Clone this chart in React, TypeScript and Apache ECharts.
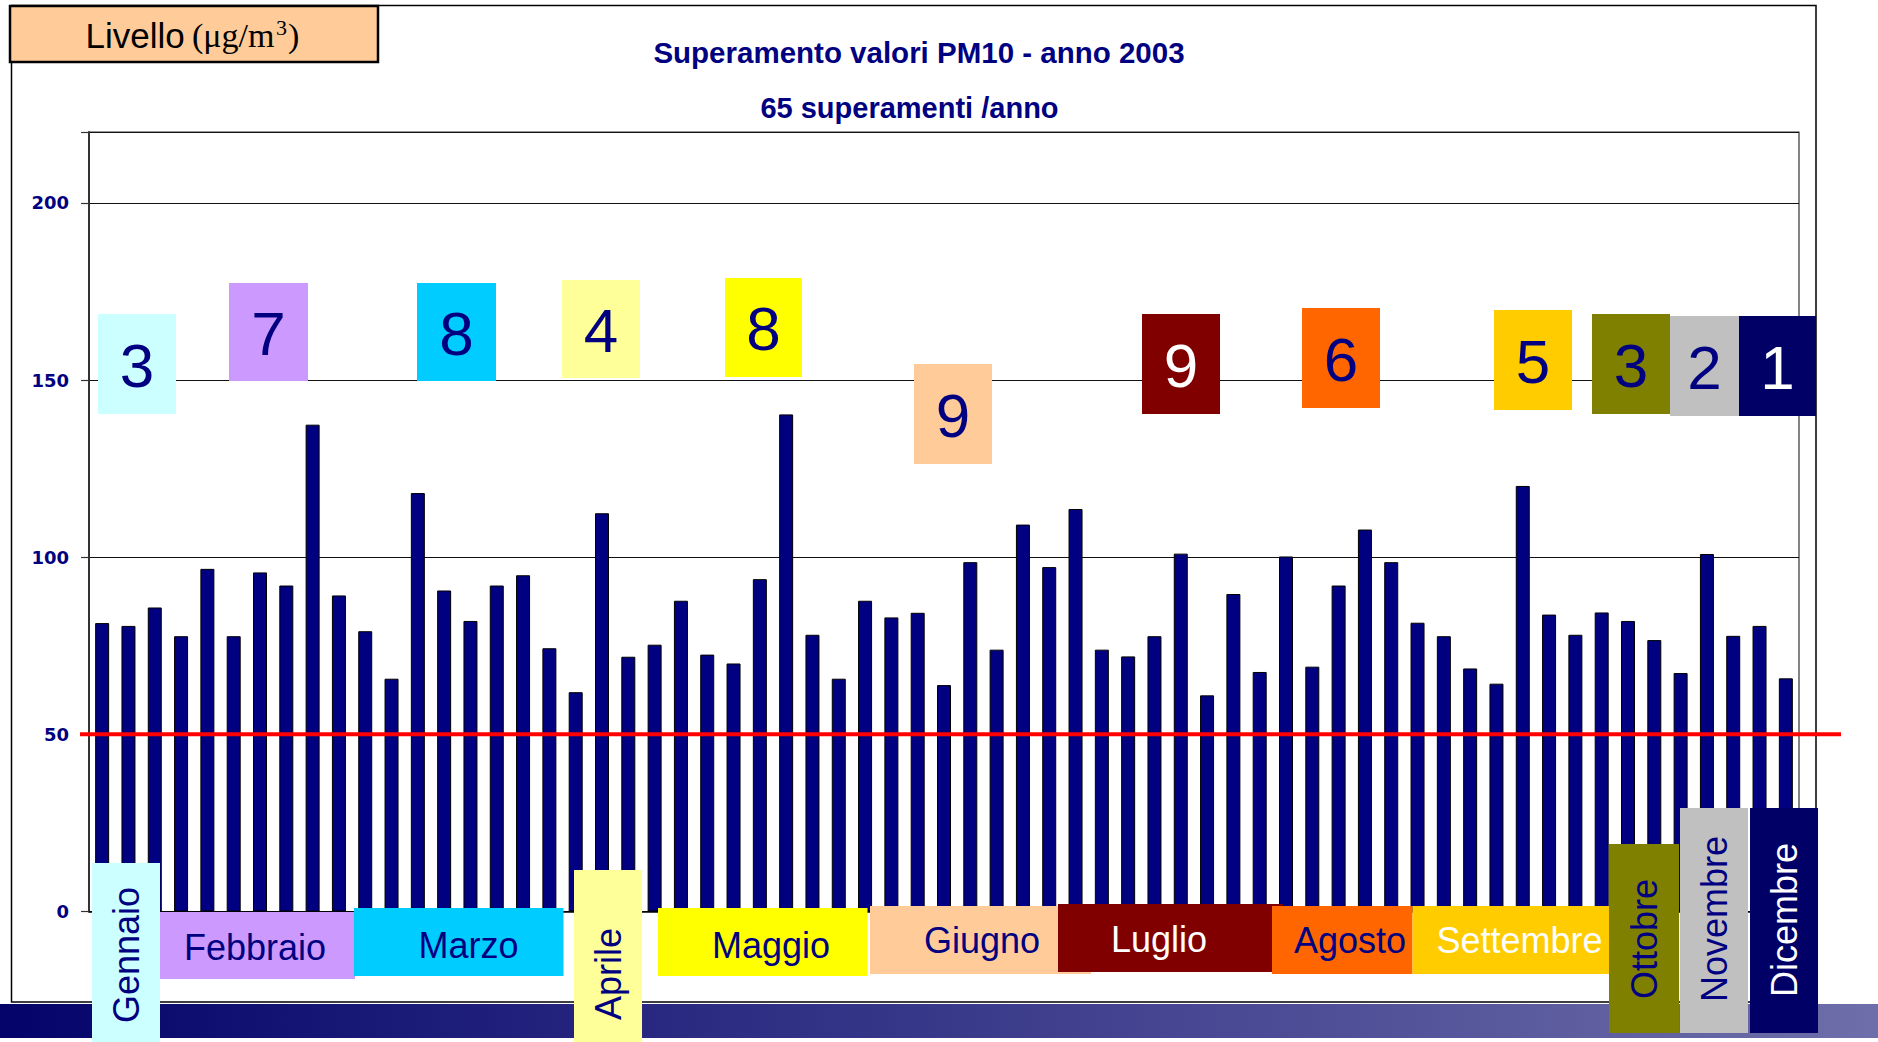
import React, { useEffect, useRef } from "react";
import * as echarts from "echarts";

// ---------- DATA ----------
const MONTHS = ["Gennaio", "Febbraio", "Marzo", "Aprile", "Maggio", "Giugno", "Luglio", "Agosto", "Settembre", "Ottobre", "Novembre", "Dicembre"];
const MONTH_COUNTS = [3, 7, 8, 4, 8, 9, 9, 6, 5, 3, 2, 1];
const PM10_VALUES = [
  81.4, 80.6, 85.8, 77.7, 96.7, 77.7, 95.7, 92.0, 137.4, 89.2,
  79.1, 65.7, 118.1, 90.6, 82.0, 92.0, 94.9, 74.3, 61.9, 112.4,
  71.9, 75.3, 87.7, 72.5, 70.0, 93.8, 140.3, 78.1, 65.7, 87.7,
  83.0, 84.3, 63.9, 98.6, 73.9, 109.2, 97.2, 113.6, 73.9, 72.0,
  77.7, 101.0, 61.0, 89.6, 67.6, 100.2, 69.1, 92.0, 107.8, 98.6,
  81.5, 77.7, 68.6, 64.3, 120.1, 83.8, 78.1, 84.4, 82.0, 76.6,
  67.3, 100.9, 77.8, 80.6, 65.8,
];
const THRESHOLD = 50;
const Y_MIN = 0;
const Y_MAX = 220;
const Y_INTERVAL = 50;
const Y_LAST_LABEL = 200;
const TITLE = "Superamento valori PM10 - anno 2003";
const SUBTITLE = "65 superamenti /anno";
const UNIT_WORD = "Livello";
const UNIT_OPEN = "(μg/m";
const UNIT_SUP = "3";
const UNIT_CLOSE = ")";

// categories: one per exceedance day, grouped by month
const CATEGORIES: string[] = [];
MONTHS.forEach((m, i) => {
  for (let k = 0; k < MONTH_COUNTS[i]; k++) CATEGORIES.push(m + " " + (k + 1));
});

// ---------- STYLE / LAYOUT ----------
const NAVY = "#000080";
const FONT = "'Liberation Sans', Arial, sans-serif";
const SERIF = "'Liberation Serif', 'Times New Roman', serif";
const MONTH_COLORS = ["#CCFFFF", "#CC99FF", "#00CCFF", "#FFFF99", "#FFFF00", "#FFCC99", "#800000", "#FF6600", "#FFCC00", "#808000", "#C0C0C0", "#000066"];
const MONTH_TEXT_COLORS = [NAVY, NAVY, NAVY, NAVY, NAVY, NAVY, "#FFFFFF", NAVY, "#FFFFFF", NAVY, NAVY, "#FFFFFF"];
const COUNT_TEXT_COLORS = [NAVY, NAVY, NAVY, NAVY, NAVY, NAVY, "#FFFFFF", NAVY, NAVY, NAVY, NAVY, "#FFFFFF"];
// [x, y, w, h]
const COUNT_BOXES = [
  [98, 314, 78, 100], [229, 283, 79, 98], [417, 283, 79, 98], [562, 280, 78, 98],
  [725, 278, 77, 99], [914, 364, 78, 100], [1142, 314, 78, 100], [1302, 308, 78, 100],
  [1494, 310, 78, 100], [1592, 314, 78, 100], [1670, 316, 69, 100], [1739, 316, 77, 100],
];
// [x, y, w, h, textX, textY, vertical]
const LABEL_BOXES: [number, number, number, number, number, number, boolean][] = [
  [92, 863, 68, 179, 126, 955, true],
  [160, 912, 195, 67, 255, 947, false],
  [354, 908, 209.5, 68, 468.5, 945, false],
  [574, 870, 68, 172, 608, 974, true],
  [658, 908, 209.5, 68, 771, 945, false],
  [870, 906, 221, 68, 982, 940, false],
  [1058, 904, 225, 68, 1159, 939, false],
  [1272, 906, 140.5, 68, 1350, 940, false],
  [1412.5, 906, 196.5, 68, 1519.5, 940, false],
  [1609, 844, 70, 189, 1644, 939, true],
  [1680, 808, 68, 225, 1714, 919, true],
  [1750, 808, 68, 225, 1784, 920, true],
];

function buildGraphics(y50: number | null): any[] {
  const g: any[] = [];
  g.push({ id: "frame", type: "rect", z: 1, shape: { x: 11.5, y: 5.5, width: 1804.5, height: 996.5 }, style: { fill: "none", stroke: "#000", lineWidth: 1.5 } });
  g.push({
    id: "band", type: "rect", z: 1, shape: { x: 0, y: 1004, width: 1878, height: 34 },
    style: { fill: new echarts.graphic.LinearGradient(0, 0, 1, 0, [{ offset: 0, color: "#03036A" }, { offset: 1, color: "#6E6EAA" }]) },
  });
  g.push({ id: "unitBox", type: "rect", z: 5, shape: { x: 10, y: 6, width: 368, height: 56 }, style: { fill: "#FFCC99", stroke: "#000", lineWidth: 2.5 } });
  g.push({ id: "unitWord", type: "text", z: 6, x: 85.5, y: 35.5, style: { text: UNIT_WORD, font: "35px " + FONT, fill: "#000", align: "left", verticalAlign: "middle" } });
  g.push({ id: "unitOpen", type: "text", z: 6, x: 192, y: 35.5, style: { text: UNIT_OPEN, font: "34px " + SERIF, fill: "#000", align: "left", verticalAlign: "middle" } });
  g.push({ id: "unitSup", type: "text", z: 6, x: 276, y: 27, style: { text: UNIT_SUP, font: "22px " + SERIF, fill: "#000", align: "left", verticalAlign: "middle" } });
  g.push({ id: "unitClose", type: "text", z: 6, x: 288, y: 35.5, style: { text: UNIT_CLOSE, font: "34px " + SERIF, fill: "#000", align: "left", verticalAlign: "middle" } });

  MONTH_COUNTS.forEach((c, i) => {
    const [x, y, w, h] = COUNT_BOXES[i];
    g.push({ id: "cb" + i, type: "rect", z: 20, shape: { x, y, width: w, height: h }, style: { fill: MONTH_COLORS[i] } });
    g.push({ id: "ct" + i, type: "text", z: 21, x: x + w / 2, y: y + h / 2 + 1, style: { text: String(c), font: "62px " + FONT, fill: COUNT_TEXT_COLORS[i], align: "center", verticalAlign: "middle" } });
  });

  MONTHS.forEach((m, i) => {
    const [x, y, w, h, tx, ty, vertical] = LABEL_BOXES[i];
    g.push({ id: "lb" + i, type: "rect", z: 20 + i * 0.01, shape: { x, y, width: w, height: h }, style: { fill: MONTH_COLORS[i] } });
    g.push({ id: "lt" + i, type: "text", z: 21, x: tx, y: ty, rotation: vertical ? Math.PI / 2 : 0, style: { text: m, font: "36px " + FONT, fill: MONTH_TEXT_COLORS[i], align: "center", verticalAlign: "middle" } });
  });

  if (y50 !== null) {
    g.push({ id: "threshold", type: "line", z: 15, shape: { x1: 80, y1: y50, x2: 1841, y2: y50 }, style: { stroke: "#FF0000", lineWidth: 4 } });
  }
  return g;
}

export default function App() {
  const ref = useRef<HTMLDivElement>(null);
  useEffect(() => {
    const chart = echarts.init(ref.current!, null, { renderer: "svg" });
    const option: any = {
      animation: false,
      backgroundColor: "#FFFFFF",
      title: [
        { text: TITLE, left: 914, top: 32, textAlign: "center", textStyle: { fontFamily: FONT, fontWeight: "bold", fontSize: 29.5, color: NAVY } },
        { text: SUBTITLE, left: 904.5, top: 88.5, textAlign: "center", textStyle: { fontFamily: FONT, fontWeight: "bold", fontSize: 29, color: NAVY } },
      ],
      grid: { left: 89, top: 132, width: 1710, height: 779.5, show: true, borderColor: "#333", borderWidth: 1.2, backgroundColor: "transparent" },
      xAxis: {
        type: "category",
        data: CATEGORIES,
        boundaryGap: true,
        axisLine: { show: true, lineStyle: { color: "#000", width: 1.5 } },
        axisTick: { show: false },
        axisLabel: { show: false },
        splitLine: { show: false },
      },
      yAxis: {
        type: "value",
        min: Y_MIN,
        max: Y_MAX,
        interval: Y_INTERVAL,
        axisLine: { show: true, lineStyle: { color: "#333", width: 2 } },
        axisTick: { show: true, length: 8, lineStyle: { color: "#333", width: 1.2 } },
        axisLabel: {
          margin: 20,
          fontFamily: "'DejaVu Sans', sans-serif",
          fontWeight: "bold",
          fontSize: 18,
          color: NAVY,
          formatter: (v: number) => (v > Y_LAST_LABEL ? "" : String(v)),
        },
        splitLine: { show: true, lineStyle: { color: "#111", width: 1 } },
      },
      series: [
        {
          type: "bar",
          data: PM10_VALUES,
          barWidth: 14,
          itemStyle: { color: NAVY, borderColor: "#000", borderWidth: 1 },
        },
      ],
      graphic: buildGraphics(null),
    };
    chart.setOption(option);
    const y50 = chart.convertToPixel({ yAxisIndex: 0 }, THRESHOLD) as number;
    chart.setOption({ graphic: buildGraphics(y50) });
    return () => chart.dispose();
  }, []);
  return <div ref={ref} style={{ position: "absolute", left: 0, top: 0, width: 1878, height: 1042 }} />;
}
